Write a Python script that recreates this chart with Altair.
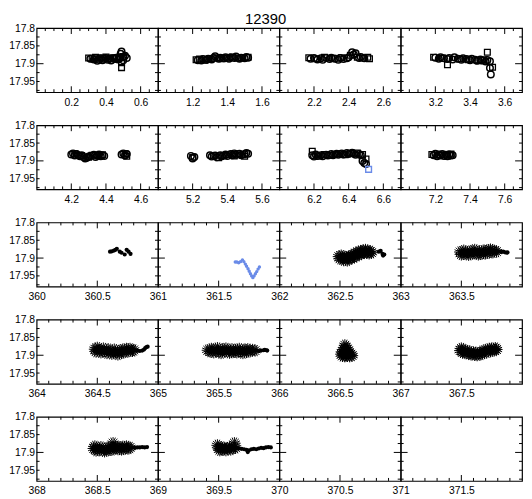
import altair as alt
import pandas as pd

title_text = "12390"

# ---------------- axes ----------------
y_domain = [17.8, 17.98]
y_labels = [17.8, 17.85, 17.9, 17.95]
y_minor = [17.825, 17.85, 17.875, 17.925, 17.95, 17.975]
y_major = [17.9]

panel_starts = [0, 1, 2, 3, 4, 5, 6, 7,
                360, 361, 362, 363, 364, 365, 366, 367, 368, 369, 370, 371]
phase_span = 0.7
time_span = 1.0
phase_label_offsets = [0.2, 0.4, 0.6]
phase_minor_offsets = [0.05, 0.1, 0.15, 0.25, 0.3, 0.35, 0.45, 0.5, 0.55, 0.65]
phase_major_offsets = [0.2, 0.4, 0.6]
time_label_offsets = [0, 0.5]
time_minor_offsets = [0.1, 0.2, 0.3, 0.4, 0.6, 0.7, 0.8, 0.9]
time_major_offsets = [0.5]

# ---------------- data: rows 1-2 (circles / squares) ----------------
c01_x = [0.31, 0.33, 0.34, 0.35, 0.36, 0.37, 0.38, 0.39, 0.40, 0.41, 0.42, 0.43, 0.44, 0.45, 0.46, 0.47, 0.48, 0.49, 0.50, 0.51, 0.52, 0.485, 0.50]
c01_y = [17.886, 17.888, 17.884, 17.892, 17.889, 17.885, 17.890, 17.887, 17.884, 17.889, 17.886, 17.891, 17.885, 17.887, 17.883, 17.888, 17.885, 17.866, 17.882, 17.878, 17.884, 17.872, 17.890]
s01_x = [0.30, 0.32, 0.34, 0.36, 0.38, 0.40, 0.42, 0.44, 0.46, 0.48, 0.49, 0.49, 0.50]
s01_y = [17.884, 17.886, 17.882, 17.887, 17.884, 17.881, 17.886, 17.883, 17.885, 17.882, 17.897, 17.911, 17.880]

c02_x = [1.23, 1.25, 1.26, 1.28, 1.29, 1.31, 1.32, 1.33, 1.35, 1.36, 1.38, 1.39, 1.41, 1.42, 1.44, 1.45, 1.47, 1.48, 1.50, 1.51, 1.52]
c02_y = [17.890, 17.891, 17.887, 17.889, 17.886, 17.888, 17.884, 17.879, 17.886, 17.883, 17.885, 17.882, 17.886, 17.882, 17.884, 17.880, 17.886, 17.883, 17.885, 17.881, 17.883]
s02_x = [1.22, 1.24, 1.27, 1.30, 1.34, 1.37, 1.40, 1.43, 1.46, 1.49, 1.52]
s02_y = [17.889, 17.887, 17.890, 17.886, 17.883, 17.886, 17.884, 17.882, 17.884, 17.883, 17.882]

c03_x = [2.18, 2.20, 2.22, 2.24, 2.25, 2.27, 2.29, 2.30, 2.32, 2.34, 2.35, 2.37, 2.39, 2.40, 2.42, 2.43, 2.44, 2.46, 2.47, 2.49]
c03_y = [17.886, 17.884, 17.888, 17.885, 17.889, 17.884, 17.887, 17.883, 17.886, 17.889, 17.884, 17.887, 17.885, 17.882, 17.868, 17.874, 17.871, 17.884, 17.881, 17.885]
s03_x = [2.17, 2.21, 2.26, 2.31, 2.36, 2.41, 2.45, 2.48, 2.51, 2.52]
s03_y = [17.883, 17.886, 17.882, 17.885, 17.883, 17.876, 17.882, 17.884, 17.882, 17.886]

c04_x = [3.20, 3.22, 3.23, 3.25, 3.27, 3.28, 3.30, 3.31, 3.33, 3.35, 3.36, 3.38, 3.40, 3.41, 3.43, 3.44, 3.46, 3.47, 3.49, 3.50, 3.515, 3.515, 3.52]
c04_y = [17.883, 17.886, 17.882, 17.885, 17.887, 17.884, 17.888, 17.882, 17.886, 17.889, 17.885, 17.887, 17.890, 17.886, 17.889, 17.892, 17.888, 17.891, 17.894, 17.890, 17.893, 17.912, 17.930]
s04_x = [3.19, 3.24, 3.27, 3.34, 3.39, 3.45, 3.48, 3.50, 3.53]
s04_y = [17.882, 17.885, 17.903, 17.887, 17.889, 17.892, 17.889, 17.868, 17.910]

c05_x = [4.20, 4.21, 4.22, 4.23, 4.24, 4.25, 4.26, 4.27, 4.28, 4.29, 4.30, 4.31, 4.33, 4.34, 4.35, 4.36, 4.37, 4.38, 4.39, 4.49, 4.50, 4.51, 4.52]
c05_y = [17.882, 17.879, 17.885, 17.881, 17.884, 17.887, 17.884, 17.889, 17.893, 17.891, 17.888, 17.886, 17.883, 17.889, 17.885, 17.882, 17.887, 17.884, 17.886, 17.882, 17.879, 17.885, 17.881]
s05_x = [4.22, 4.26, 4.30, 4.32, 4.36, 4.38, 4.51, 4.52]
s05_y = [17.880, 17.885, 17.890, 17.884, 17.886, 17.883, 17.880, 17.887]

c06_x = [5.19, 5.20, 5.21, 5.30, 5.31, 5.33, 5.34, 5.36, 5.37, 5.39, 5.40, 5.42, 5.43, 5.44, 5.45, 5.47, 5.48, 5.50, 5.51, 5.52]
c06_y = [17.886, 17.893, 17.889, 17.884, 17.888, 17.885, 17.890, 17.884, 17.887, 17.882, 17.886, 17.881, 17.884, 17.879, 17.883, 17.880, 17.884, 17.881, 17.878, 17.880]
s06_x = [5.20, 5.32, 5.35, 5.38, 5.41, 5.44, 5.46, 5.49, 5.50]
s06_y = [17.890, 17.886, 17.891, 17.885, 17.883, 17.886, 17.880, 17.883, 17.887]

c07_x = [6.19, 6.20, 6.21, 6.22, 6.24, 6.25, 6.27, 6.28, 6.30, 6.31, 6.33, 6.34, 6.36, 6.37, 6.39, 6.40, 6.42, 6.43, 6.44, 6.46, 6.47, 6.48, 6.49, 6.50]
c07_y = [17.884, 17.888, 17.882, 17.886, 17.884, 17.887, 17.883, 17.885, 17.881, 17.884, 17.880, 17.883, 17.879, 17.882, 17.878, 17.881, 17.877, 17.880, 17.883, 17.881, 17.884, 17.900, 17.906, 17.909]
s07_x = [6.19, 6.23, 6.26, 6.29, 6.32, 6.35, 6.38, 6.41, 6.45, 6.48, 6.50]
s07_y = [17.873, 17.886, 17.882, 17.884, 17.882, 17.880, 17.883, 17.879, 17.878, 17.882, 17.895]
b07_x = [6.515]
b07_y = [17.924]

c08_x = [7.19, 7.20, 7.21, 7.22, 7.23, 7.24, 7.25, 7.26, 7.27, 7.28, 7.29, 7.30]
c08_y = [17.884, 17.880, 17.887, 17.882, 17.885, 17.881, 17.886, 17.883, 17.887, 17.882, 17.885, 17.884]
s08_x = [7.18, 7.21, 7.24, 7.27, 7.29]
s08_y = [17.882, 17.884, 17.883, 17.886, 17.881]

# ---------------- data: rows 3-5 (dots / asterisks) ----------------
d09_x = [360.605, 360.62, 360.637, 360.65, 360.661, 360.685, 360.70, 360.726, 360.742, 360.758, 360.774]
d09_y = [17.882, 17.881, 17.879, 17.877, 17.874, 17.882, 17.885, 17.890, 17.877, 17.882, 17.888]

blue10_x = [361.637, 361.650, 361.665, 361.680, 361.696, 361.708, 361.720, 361.730, 361.742, 361.752, 361.762, 361.772, 361.782, 361.792, 361.803, 361.814, 361.825, 361.836]
blue10_y = [17.911, 17.911, 17.913, 17.910, 17.905, 17.910, 17.917, 17.923, 17.930, 17.937, 17.944, 17.950, 17.955, 17.950, 17.944, 17.938, 17.931, 17.925]

a11_x = [362.49, 362.50, 362.51, 362.52, 362.53, 362.54, 362.55, 362.56, 362.57, 362.58, 362.59, 362.60, 362.61, 362.62, 362.63, 362.64, 362.65, 362.66, 362.67, 362.68, 362.69, 362.70, 362.71, 362.72, 362.73, 362.74, 362.75, 362.76]
a11_y = [17.896, 17.902, 17.893, 17.900, 17.906, 17.896, 17.901, 17.907, 17.897, 17.902, 17.894, 17.900, 17.890, 17.897, 17.886, 17.893, 17.883, 17.890, 17.880, 17.887, 17.879, 17.886, 17.877, 17.884, 17.880, 17.887, 17.881, 17.885]
d11_x = [362.82, 362.835, 362.85, 362.855, 362.865]
d11_y = [17.882, 17.880, 17.888, 17.893, 17.890]

a12_x = [363.49, 363.50, 363.52, 363.53, 363.55, 363.56, 363.58, 363.59, 363.61, 363.62, 363.64, 363.65, 363.67, 363.68, 363.70, 363.71, 363.73, 363.74, 363.76, 363.77, 363.79]
a12_y = [17.883, 17.890, 17.879, 17.888, 17.883, 17.891, 17.880, 17.888, 17.877, 17.886, 17.890, 17.881, 17.888, 17.879, 17.887, 17.878, 17.885, 17.876, 17.884, 17.879, 17.882]
d12_x = [363.80, 363.815, 363.83, 363.845, 363.86, 363.875, 363.88]
d12_y = [17.882, 17.881, 17.883, 17.882, 17.884, 17.885, 17.884]

a13_x = [364.48, 364.49, 364.50, 364.52, 364.53, 364.55, 364.56, 364.58, 364.59, 364.61, 364.62, 364.64, 364.65, 364.67, 364.68, 364.70, 364.71, 364.73, 364.74, 364.76, 364.77, 364.79, 364.80]
a13_y = [17.883, 17.890, 17.879, 17.887, 17.892, 17.881, 17.888, 17.894, 17.883, 17.890, 17.896, 17.884, 17.892, 17.898, 17.887, 17.894, 17.884, 17.891, 17.882, 17.889, 17.882, 17.888, 17.885]
d13_x = [364.81, 364.83, 364.85, 364.87, 364.885, 364.895, 364.905, 364.915]
d13_y = [17.886, 17.887, 17.888, 17.887, 17.884, 17.880, 17.877, 17.876]

a14_x = [365.41, 365.43, 365.44, 365.46, 365.47, 365.49, 365.50, 365.52, 365.53, 365.55, 365.56, 365.58, 365.59, 365.61, 365.62, 365.64, 365.65, 365.67, 365.68, 365.70, 365.71, 365.73, 365.74, 365.76, 365.78, 365.80]
a14_y = [17.886, 17.890, 17.882, 17.892, 17.885, 17.880, 17.890, 17.894, 17.883, 17.890, 17.881, 17.887, 17.893, 17.883, 17.891, 17.885, 17.892, 17.882, 17.889, 17.894, 17.884, 17.891, 17.883, 17.889, 17.885, 17.887]
d14_x = [365.81, 365.83, 365.85, 365.87, 365.88, 365.895, 365.90]
d14_y = [17.887, 17.888, 17.887, 17.886, 17.885, 17.886, 17.887]

a15_x = [366.54, 366.55, 366.53, 366.56, 366.52, 366.545, 366.57, 366.51, 366.53, 366.55, 366.57, 366.59, 366.52, 366.54, 366.56, 366.58, 366.60]
a15_y = [17.872, 17.878, 17.884, 17.883, 17.890, 17.889, 17.888, 17.897, 17.896, 17.895, 17.896, 17.897, 17.902, 17.903, 17.902, 17.903, 17.901]

a16_x = [367.49, 367.50, 367.51, 367.52, 367.53, 367.55, 367.56, 367.57, 367.58, 367.60, 367.61, 367.62, 367.63, 367.65, 367.66, 367.67, 367.69, 367.70, 367.71, 367.73, 367.74, 367.75, 367.77, 367.78, 367.79]
a16_y = [17.887, 17.881, 17.892, 17.885, 17.894, 17.888, 17.896, 17.890, 17.898, 17.892, 17.899, 17.893, 17.900, 17.894, 17.898, 17.889, 17.894, 17.885, 17.891, 17.882, 17.889, 17.881, 17.887, 17.880, 17.884]

a17_x = [368.47, 368.48, 368.49, 368.50, 368.52, 368.53, 368.55, 368.56, 368.58, 368.59, 368.61, 368.62, 368.63, 368.64, 368.65, 368.67, 368.68, 368.70, 368.71, 368.73, 368.74, 368.76, 368.77]
a17_y = [17.889, 17.883, 17.895, 17.889, 17.894, 17.885, 17.892, 17.897, 17.887, 17.894, 17.886, 17.893, 17.874, 17.888, 17.884, 17.891, 17.885, 17.892, 17.884, 17.890, 17.883, 17.889, 17.886]
d17_x = [368.79, 368.81, 368.83, 368.85, 368.87, 368.89, 368.91]
d17_y = [17.886, 17.887, 17.886, 17.886, 17.885, 17.886, 17.885]

a18_x = [369.49, 369.50, 369.51, 369.52, 369.53, 369.55, 369.56, 369.57, 369.59, 369.60, 369.62, 369.63, 369.64]
a18_y = [17.880, 17.888, 17.894, 17.885, 17.892, 17.887, 17.894, 17.889, 17.886, 17.892, 17.888, 17.874, 17.887]
d18_x = [369.65, 369.67, 369.69, 369.71, 369.73, 369.74, 369.75, 369.77, 369.79, 369.81, 369.83, 369.85, 369.87, 369.89, 369.91, 369.93]
d18_y = [17.888, 17.889, 17.890, 17.891, 17.893, 17.899, 17.894, 17.891, 17.890, 17.891, 17.889, 17.887, 17.888, 17.886, 17.885, 17.886]

# ---------------- styling ----------------
W, H = 123, 65
FONT = "Liberation Sans"
BLUE = "#6a8be8"
STAR = ("M-1,0L1,0M0,-1L0,1M-0.72,-0.72L0.72,0.72M-0.72,0.72L0.72,-0.72"
        "M-0.38,-0.92L0.38,0.92M0.38,-0.92L-0.38,0.92M-0.92,-0.38L0.92,0.38M-0.92,0.38L0.92,-0.38")

STYLE = {
    "circle": dict(shape="circle", filled=False, size=44, color="black", strokeWidth=1.5, opacity=1),
    "square": dict(shape="square", filled=False, size=34, color="black", strokeWidth=1.3, opacity=1),
    "bsquare": dict(shape="square", filled=False, size=34, color=BLUE, strokeWidth=1.4, opacity=1),
    "dot": dict(shape="circle", filled=True, size=18, color="black", strokeWidth=0, opacity=1),
    "bdot": dict(shape="circle", filled=True, size=12, color=BLUE, strokeWidth=0, opacity=1),
    "star": dict(shape=STAR, filled=False, size=150, color="black", strokeWidth=1, opacity=1),
}

panel_series = [
    [("circle", c01_x, c01_y), ("square", s01_x, s01_y)],
    [("circle", c02_x, c02_y), ("square", s02_x, s02_y)],
    [("circle", c03_x, c03_y), ("square", s03_x, s03_y)],
    [("circle", c04_x, c04_y), ("square", s04_x, s04_y)],
    [("circle", c05_x, c05_y), ("square", s05_x, s05_y)],
    [("circle", c06_x, c06_y), ("square", s06_x, s06_y)],
    [("circle", c07_x, c07_y), ("square", s07_x, s07_y), ("bsquare", b07_x, b07_y)],
    [("circle", c08_x, c08_y), ("square", s08_x, s08_y)],
    [("dot", d09_x, d09_y)],
    [("bdot", blue10_x, blue10_y)],
    [("star", a11_x, a11_y), ("dot", d11_x, d11_y)],
    [("star", a12_x, a12_y), ("dot", d12_x, d12_y)],
    [("star", a13_x, a13_y), ("dot", d13_x, d13_y)],
    [("star", a14_x, a14_y), ("dot", d14_x, d14_y)],
    [("star", a15_x, a15_y)],
    [("star", a16_x, a16_y)],
    [("star", a17_x, a17_y), ("dot", d17_x, d17_y)],
    [("star", a18_x, a18_y), ("dot", d18_x, d18_y)],
    [],
    [],
]


def make_panel(idx):
    start = panel_starts[idx]
    phase = idx < 8
    span = phase_span if phase else time_span
    lab_offs = phase_label_offsets if phase else time_label_offsets
    minor_offs = phase_minor_offsets if phase else time_minor_offsets
    major_offs = phase_major_offsets if phase else time_major_offsets
    show_y = (idx % 4 == 0)

    xe = alt.X("x:Q",
               scale=alt.Scale(domain=[start, start + span], nice=False, zero=False),
               axis=alt.Axis(values=[start + o for o in lab_offs], format=".2~f",
                             ticks=False, domain=False, grid=False, labelFlush=False,
                             labelOverlap=False, title=None, labelPadding=5))
    if show_y:
        yaxis = alt.Axis(values=y_labels, format=".2~f", ticks=False, domain=False,
                         grid=False, title=None, labelPadding=2, labelFlush=False,
                         labelOverlap=False)
    else:
        yaxis = None
    ye = alt.Y("y:Q", scale=alt.Scale(domain=y_domain, reverse=True, nice=False, zero=False),
               axis=yaxis)

    layers = []
    for offs, L in ((minor_offs, 3), (major_offs, 6)):
        df = pd.DataFrame({"x": [start + o for o in offs]})
        layers.append(alt.Chart(df).mark_rule(color="black", strokeWidth=1)
                      .encode(x=xe, y=alt.value(H), y2=alt.value(H - L)))
        layers.append(alt.Chart(df).mark_rule(color="black", strokeWidth=1)
                      .encode(x=xe, y=alt.value(0), y2=alt.value(L)))
    for vals, L in ((y_minor, 3), (y_major, 7)):
        df = pd.DataFrame({"y": vals})
        layers.append(alt.Chart(df).mark_rule(color="black", strokeWidth=1)
                      .encode(y=ye, x=alt.value(0), x2=alt.value(L)))
        layers.append(alt.Chart(df).mark_rule(color="black", strokeWidth=1)
                      .encode(y=ye, x=alt.value(W), x2=alt.value(W - L)))
    for kind, xs, ys in panel_series[idx]:
        df = pd.DataFrame({"x": xs, "y": ys})
        layers.append(alt.Chart(df).mark_point(**STYLE[kind]).encode(x=xe, y=ye))
    return alt.layer(*layers).properties(width=W, height=H)


panels = [make_panel(i) for i in range(20)]

chart = alt.concat(
    *panels, columns=4, spacing={"row": 33.5, "column": 0}, bounds="flush"
).properties(
    title=alt.TitleParams(title_text, anchor="middle", font=FONT, fontSize=15,
                          fontWeight="normal", color="black", offset=-4),
    padding=0,
).configure_view(
    stroke="black", strokeWidth=1.2
).configure_axis(
    labelFont=FONT, labelFontSize=10.5, labelColor="black"
)

chart.save("out.html", embed_options={"renderer": "svg", "actions": False})
